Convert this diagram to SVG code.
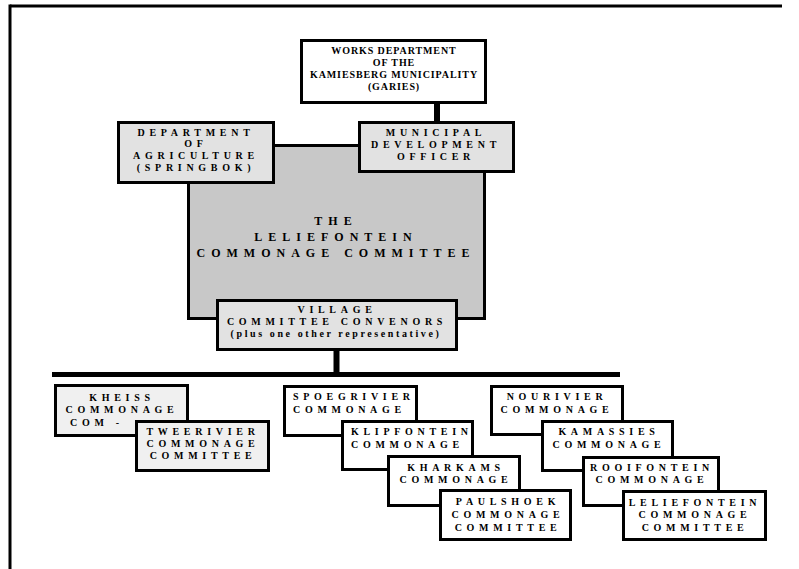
<svg xmlns="http://www.w3.org/2000/svg" width="799" height="569" viewBox="0 0 799 569">
<style>
.box{stroke:#000;stroke-width:3}
.w{fill:#fff}
.g1{fill:#e2e2e2}
.g2{fill:#c8c8c8}
.g3{fill:#f0f0f0}
text{font-family:"Liberation Serif","Times New Roman",serif;font-weight:bold;fill:#000;font-size:10px;letter-spacing:4.7px}
.c{text-anchor:middle}
.tight{letter-spacing:0.9px}
.big{font-size:12px;letter-spacing:6px}
.lc{letter-spacing:2.6px}
.conn{stroke:#000;fill:none}
</style>
<rect width="799" height="569" fill="#fff"/>
<g id="frame">
<line x1="10" y1="6" x2="782" y2="6" stroke="#000" stroke-width="3"/>
<line x1="10" y1="4.5" x2="10" y2="569" stroke="#000" stroke-width="3"/>
</g>
<g id="connectors">
<line class="conn" x1="437" y1="103" x2="437" y2="123" stroke-width="6"/>
<line class="conn" x1="336.5" y1="350" x2="336.5" y2="374" stroke-width="6"/>
<line class="conn" x1="52" y1="374.5" x2="620" y2="374.5" stroke-width="5"/>
</g>
<g id="works">
<rect class="box w" x="301.5" y="40.5" width="184" height="62"/>
<text class="c tight" x="394" y="54">WORKS DEPARTMENT</text>
<text class="c tight" x="394" y="66">OF THE</text>
<text class="c tight" x="394" y="78">KAMIESBERG MUNICIPALITY</text>
<text class="c tight" x="394" y="90">(GARIES)</text>
</g>
<g id="committee">
<rect class="box g2" x="188.5" y="145.5" width="296" height="173"/>
<text class="c big" x="336" y="225">THE</text>
<text class="c big" x="336" y="241">LELIEFONTEIN</text>
<text class="c big" x="336" y="257">COMMONAGE COMMITTEE</text>
</g>
<g id="agriculture">
<rect class="box g1" x="118.5" y="122.5" width="155" height="60"/>
<text class="c" x="196" y="136">DEPARTMENT</text>
<text class="c" x="196" y="147">OF</text>
<text class="c" x="196" y="159">AGRICULTURE</text>
<text class="c" x="196" y="171">(SPRINGBOK)</text>
</g>
<g id="municipal">
<rect class="box g1" x="359.5" y="122.5" width="154" height="49"/>
<text class="c" x="436" y="136">MUNICIPAL</text>
<text class="c" x="436" y="148">DEVELOPMENT</text>
<text class="c" x="436" y="160">OFFICER</text>
</g>
<g id="village">
<rect class="box g1" x="217.5" y="300.5" width="239" height="49"/>
<text class="c" x="337" y="313">VILLAGE</text>
<text class="c" x="337" y="325">COMMITTEE CONVENORS</text>
<text class="c lc" x="336" y="337">(plus one other representative)</text>
</g>
<g id="kheiss">
<rect class="box g3" x="55.5" y="385.5" width="132" height="50"/>
<text class="c" x="122" y="401">KHEISS</text>
<text class="c" x="122" y="413">COMMONAGE</text>
<text x="70" y="426">COM -</text>
</g>
<g id="tweerivier">
<rect class="box g3" x="136.5" y="421.5" width="132" height="49"/>
<text class="c" x="203" y="435">TWEERIVIER</text>
<text class="c" x="203" y="447">COMMONAGE</text>
<text class="c" x="203" y="459">COMMITTEE</text>
</g>
<g id="spoegrivier">
<rect class="box w" x="284.5" y="386.5" width="132" height="49"/>
<text x="293" y="400">SPOEGRIVIER</text>
<text x="293" y="413">COMMONAGE</text>
</g>
<g id="klipfontein">
<rect class="box w" x="342.5" y="421.5" width="130" height="48"/>
<text x="351" y="435">KLIPFONTEIN</text>
<text x="351" y="448">COMMONAGE</text>
</g>
<g id="kharkams">
<rect class="box w" x="388.5" y="456.5" width="131" height="49"/>
<text class="c" x="456" y="471">KHARKAMS</text>
<text class="c" x="456" y="483">COMMONAGE</text>
</g>
<g id="paulshoek">
<rect class="box w" x="440.5" y="490.5" width="130" height="49"/>
<text class="c" x="508" y="505">PAULSHOEK</text>
<text class="c" x="508" y="518">COMMONAGE</text>
<text class="c" x="508" y="531">COMMITTEE</text>
</g>
<g id="nourivier">
<rect class="box w" x="491.5" y="386.5" width="131" height="48"/>
<text class="c" x="557" y="400">NOURIVIER</text>
<text class="c" x="557" y="413">COMMONAGE</text>
</g>
<g id="kamassies">
<rect class="box w" x="542.5" y="421.5" width="130" height="49"/>
<text class="c" x="609" y="435">KAMASSIES</text>
<text class="c" x="609" y="448">COMMONAGE</text>
</g>
<g id="rooifontein">
<rect class="box w" x="583.5" y="457.5" width="135" height="48"/>
<text class="c" x="652" y="471">ROOIFONTEIN</text>
<text class="c" x="652" y="483">COMMONAGE</text>
</g>
<g id="leliefontein">
<rect class="box w" x="623.5" y="491.5" width="142" height="48"/>
<text class="c" x="695" y="506">LELIEFONTEIN</text>
<text class="c" x="695" y="518">COMMONAGE</text>
<text class="c" x="695" y="531">COMMITTEE</text>
</g>
</svg>
